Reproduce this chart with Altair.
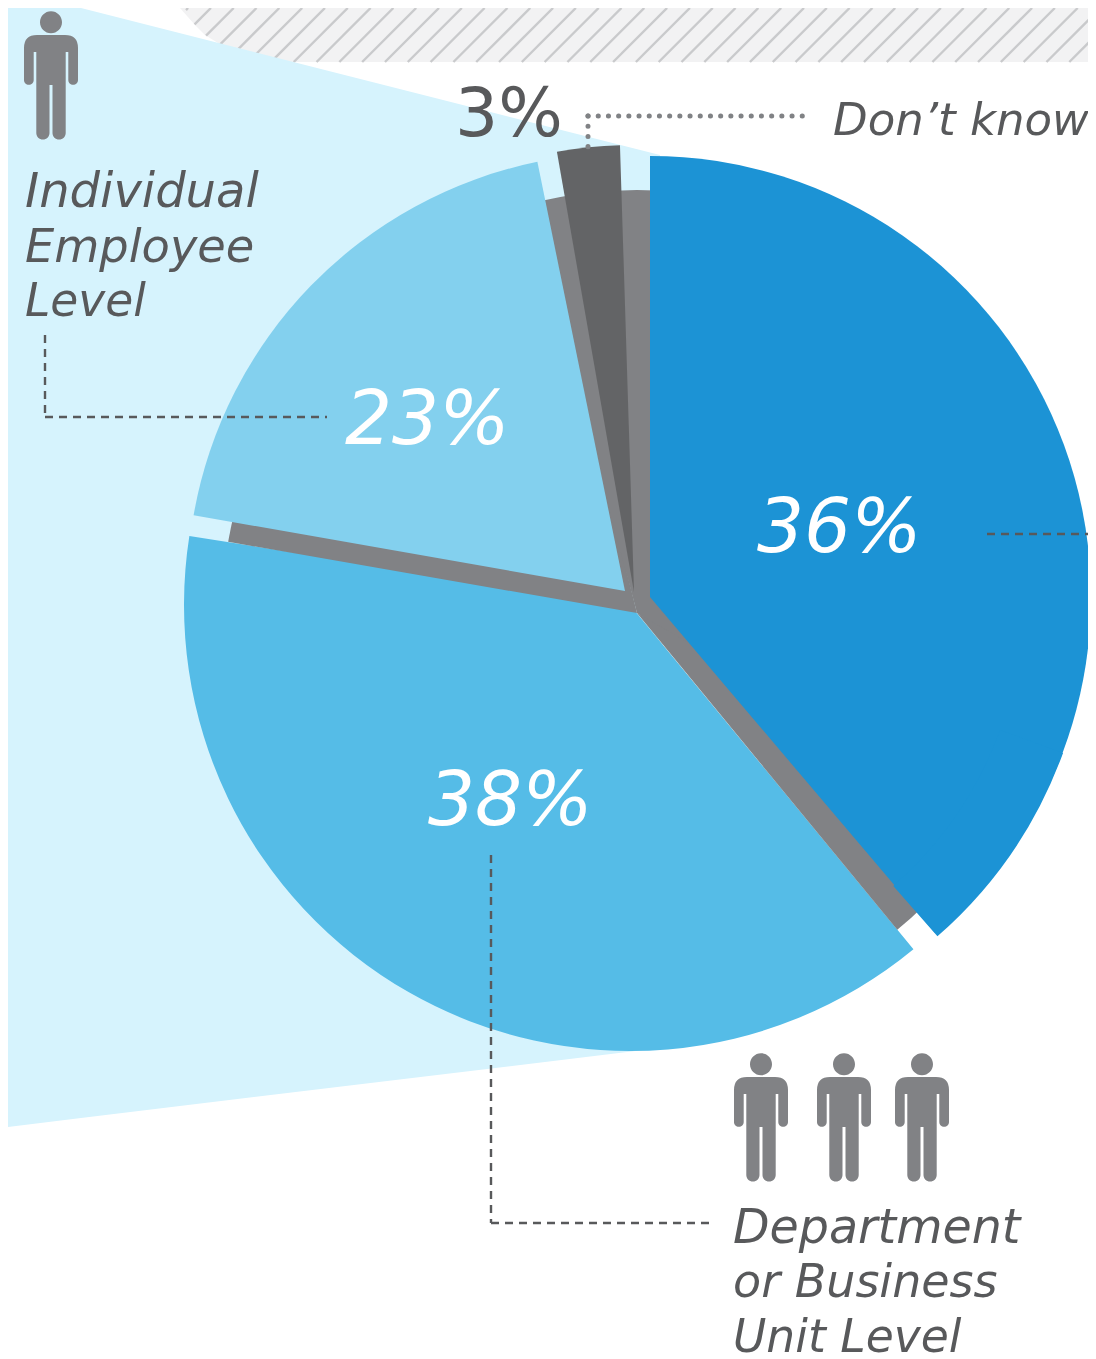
import altair as alt
import numpy as np
import pandas as pd

labels = ["36%", "38%", "23%", "3%"]
label_x = [757, 428, 345, 455]
label_y = [552, 825, 444, 136]

# drawn wedges, degrees clockwise from top: medium first, grey pieces over it, then the rest
seg_start = [140.54, 279.87, 345.0, 120.0, 279.96, 350.07, 0.0, 110.0]
seg_end = [278.89, 346.0, 485.0, 140.6, 348.46, 358.2, 139.7, 138.8]
seg_cx = [630, 637, 637, 637, 625, 634, 650, 643]
seg_cy = [605, 613, 613, 613, 591, 592, 597, 600]
seg_r = [446, 415, 423, 410, 438, 447, 441, 447]
seg_r0 = [0, 0, 0, 0, 0, 0, 0, 380]
seg_color = ["#55bce7", "#818285", "#818285", "#818285", "#83d0ee", "#636466", "#1c93d5", "#1c93d5"]

hatch_x = [180, 195, 205, 218, 233, 250, 270, 293, 1096]
hatch_y = [0, 25, 35, 43, 52, 57, 61, 62, 62]
pale_x = [8, 81, 660]
pale_top = [8, 8, 155]
pale_bot = [1127, 1118, 1048]

people_x = [51, 761, 844, 922]
people_y = [76, 1118, 1118, 1118]

text_lines = ["Individual", "Employee", "Level", "Department", "or Business", "Unit Level", "Don\u2019t know"]
text_x = [25, 25, 25, 733, 733, 733, 833]
text_y = [207, 262, 316, 1243, 1297, 1352, 135]
text_size = [48, 46.3, 45.5, 47.5, 46, 45.6, 45]

dash_x = [45, 45, 987, 491, 491]
dash_x2 = [45, 327, 1096, 491, 710]
dash_y = [335, 417, 534, 855, 1223]
dash_y2 = [417, 417, 534, 1223, 1223]

dot_x = [588, 588]
dot_x2 = [588, 810]
dot_y = [116, 116]
dot_y2 = [148, 116]

FONT = "DejaVu Sans"
W, H = 1080, 1351
xs = alt.Scale(domain=[8, 1088], range=[0, W])
ys = alt.Scale(domain=[8, 1359], range=[0, H])
X = lambda f: alt.X(f, type="quantitative", scale=xs, axis=None)
Y = lambda f: alt.Y(f, type="quantitative", scale=ys, axis=None)

u = lambda v: f"{v / 64:.4f}"
def person():
    def P(*a):
        return " ".join(u(v) for v in a)
    rh, rl, ra = u(11), u(6.6), u(4.85)
    return (
        f"M {P(-11, -53.7)} A {rh} {rh} 0 1 1 {P(11, -53.7)} A {rh} {rh} 0 1 1 {P(-11, -53.7)} Z "
        f"M {P(-14, -41)} L {P(14, -41)} Q {P(27, -41, 27, -28)} L {P(27, 4)} "
        f"A {ra} {ra} 0 0 1 {P(17.3, 4)} L {P(17.3, -24)} L {P(14.7, -24)} L {P(14.7, 57)} "
        f"A {rl} {rl} 0 0 1 {P(1.5, 57)} L {P(1.5, 9)} L {P(-1.5, 9)} L {P(-1.5, 57)} "
        f"A {rl} {rl} 0 0 1 {P(-14.7, 57)} L {P(-14.7, -24)} L {P(-17.3, -24)} L {P(-17.3, 4)} "
        f"A {ra} {ra} 0 0 1 {P(-27, 4)} L {P(-27, -28)} Q {P(-27, -41, -14, -41)} Z"
    )

# hatch lines: x + y = c, from the band's lower edge up to the top of the chart
xx = np.linspace(180, 1096, 2000)
yy = np.interp(xx, hatch_x, hatch_y)
rows = []
for c in 241.7 + 22.81 * np.arange(-2, 41):
    x0 = float(np.interp(c, xx + yy, xx))
    y0 = float(np.interp(x0, xx, yy))
    if y0 > 8:
        rows.append(dict(x=x0, y=y0, x2=c - 8, y2=8))
hatch_lines = pd.DataFrame(rows)

hatch_bg = (
    alt.Chart(pd.DataFrame(dict(x=hatch_x, y=np.maximum(hatch_y, 8), y0=8)))
    .mark_area(color="#f2f2f3", clip=True)
    .encode(x=X("x"), y=Y("y"), y2="y0:Q")
)
hatch = (
    alt.Chart(hatch_lines)
    .mark_rule(color="#c9cacc", strokeWidth=2.4, clip=True)
    .encode(x=X("x"), y=Y("y"), x2="x2:Q", y2="y2:Q")
)
pale = (
    alt.Chart(pd.DataFrame(dict(x=pale_x, y=pale_top, y0=pale_bot)))
    .mark_area(color="#d6f3fd", blend="multiply", clip=True)
    .encode(x=X("x"), y=Y("y"), y2="y0:Q")
)
seg = pd.DataFrame(dict(
    a=np.radians(seg_start), b=np.radians(seg_end), cx=seg_cx, cy=seg_cy, r=seg_r, r0=seg_r0, c=seg_color,
))
arcs = [
    alt.Chart(seg.iloc[[i]]).mark_arc().encode(
        x=X("cx"), y=Y("cy"),
        theta=alt.Theta("a:Q", scale=None), theta2="b:Q",
        radius=alt.Radius("r:Q", scale=None), radius2="r0:Q",
        color=alt.Color("c:N", scale=None),
    )
    for i in range(len(seg))
]
dash = (
    alt.Chart(pd.DataFrame(dict(x=dash_x, x2=dash_x2, y=dash_y, y2=dash_y2)))
    .mark_rule(color="#58595b", strokeWidth=2.4, strokeDash=[8, 6], clip=True)
    .encode(x=X("x"), y=Y("y"), x2="x2:Q", y2="y2:Q")
)
dots = (
    alt.Chart(pd.DataFrame(dict(x=dot_x, x2=dot_x2, y=dot_y, y2=dot_y2)))
    .mark_rule(color="#808285", strokeWidth=5, strokeDash=[0.1, 10.1], strokeCap="round")
    .encode(x=X("x"), y=Y("y"), x2="x2:Q", y2="y2:Q")
)
people = (
    alt.Chart(pd.DataFrame(dict(x=people_x, y=people_y)))
    .mark_point(shape=person(), filled=True, color="#818285", opacity=1, size=16384, strokeWidth=0)
    .encode(x=X("x"), y=Y("y"))
)
num = (
    alt.Chart(pd.DataFrame(dict(x=label_x[:3], y=label_y[:3], t=labels[:3])))
    .mark_text(font=FONT, fontSize=74, fontStyle="italic", align="left", baseline="alphabetic", color="#ffffff")
    .encode(x=X("x"), y=Y("y"), text="t:N")
)
num3 = (
    alt.Chart(pd.DataFrame(dict(x=label_x[3:], y=label_y[3:], t=labels[3:])))
    .mark_text(font=FONT, fontSize=68, align="left", baseline="alphabetic", color="#58595b")
    .encode(x=X("x"), y=Y("y"), text="t:N")
)
words = (
    alt.Chart(pd.DataFrame(dict(x=text_x, y=text_y, t=text_lines, s=text_size)))
    .mark_text(font=FONT, fontStyle="italic", align="left", baseline="alphabetic", color="#58595b")
    .encode(x=X("x"), y=Y("y"), text="t:N", size=alt.Size("s:Q", scale=None))
)

chart = alt.layer(hatch_bg, hatch, pale, *arcs, dash, dots, people, num, num3, words).properties(
    width=W, height=H, padding=0, background="#ffffff",
    autosize=alt.AutoSizeParams(type="none"),
).configure_view(stroke=None)

chart.save("out.html", embed_options={"renderer": "svg", "actions": False})
